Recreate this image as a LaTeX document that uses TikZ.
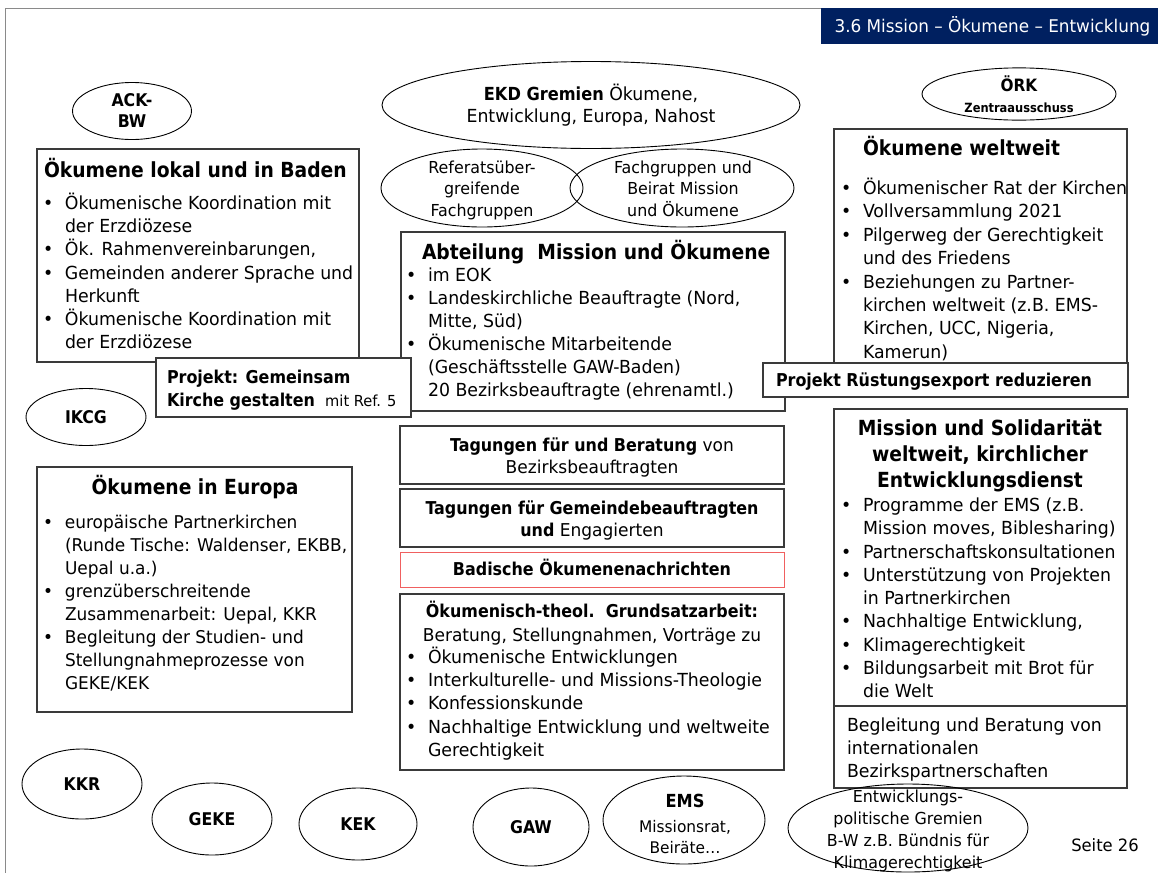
\documentclass[tikz,border=0pt]{standalone}
\usepackage{fontspec}
\setmainfont{DejaVu Sans Condensed}[UprightFeatures={FakeStretch=1.07}]
\usetikzlibrary{shapes.geometric}
\definecolor{navy}{HTML}{002060}
\definecolor{redb}{HTML}{F06060}
\definecolor{lin}{HTML}{3A3A3A}
\definecolor{frm}{HTML}{8A8A8A}
\newcommand\fs[2]{\fontsize{#1}{#2}\selectfont}
\newcommand\bul{\makebox[22pt][l]{\textbullet}}
\newcommand\indt{\hspace*{22pt}}
\newcommand\tp{\rule{0pt}{26pt}}
\begin{document}
\begin{tikzpicture}[x=1pt,y=-1pt,
 box/.style={draw=lin, line width=1.2pt, fill=white, anchor=north west, inner sep=0pt, outer sep=0pt, rectangle},
 ell/.style={draw=black, ellipse, line width=0.9pt, inner sep=0pt, align=center},
 txt/.style={anchor=north west, inner sep=0pt, outer sep=0pt, align=left, font=\fs{18}{23.2}},
 ctxt/.style={anchor=north, inner sep=0pt, outer sep=0pt, align=center},
 bt/.style={font=\bfseries\fs{17.5}{21}},
 bbt/.style={font=\bfseries\fs{17.7}{22}},
 ttl/.style={font=\bfseries\fs{20.8}{26}},
]
\useasboundingbox (0,0) rectangle (1158,873);
% frame and header
\node[box, draw=none, fill=navy, minimum width=337pt, minimum height=36pt, text=white, font=\fs{17.5}{20}] (hdr) at (821,8) {\hspace*{6pt}3.6 Mission – Ökumene – Entwicklung};
\coordinate (fTL) at (5,8);
\coordinate (fBL) at (5,873);
\draw[frm, line width=1pt] (hdr.north west) -- (fTL) -- (fBL);

% top ellipses
\node[ell, bt, minimum width=119pt, minimum height=57pt] (ack) at (132,111) {ACK-\\BW};
\node[ell, font=\fs{18}{22}, minimum width=418pt, minimum height=87pt] (ekd) at (591,105) {\textbf{EKD Gremien} Ökumene,\\Entwicklung, Europa, Nahost};
\node[ell, minimum width=202pt, minimum height=78pt] (refg) at (482,188) {};
\node[ctxt, font=\fs{16.5}{21.5}] (refgT) at (482,147) {\tp Referatsüber-\\greifende\\Fachgruppen};
\node[ell, minimum width=224pt, minimum height=78pt] (fach) at (682,188) {};
\node[ctxt, font=\fs{16.5}{21.5}] (fachT) at (683,147) {\tp Fachgruppen und\\Beirat Mission\\und Ökumene};
\node[ell, font=\bfseries\fs{12.7}{21}, minimum width=194pt, minimum height=47pt] (oerk) at (1019,94) {{\fs{17}{21}ÖRK}\\Zentraausschuss};

% Oekumene lokal
\node[box, minimum width=322pt, minimum height=213pt] (lokal) at (37,149) {};
\node[txt, ttl] (lokalT) at (44,151.5) {\tp Ökumene lokal und in Baden};
\node[txt] (lokalL) at (43,183.5) {\tp\bul Ökumenische Koordination mit\\
\indt der Erzdiözese\\
\bul Ök. Rahmenvereinbarungen,\\
\bul Gemeinden anderer Sprache und\\
\indt Herkunft\\
\bul Ökumenische Koordination mit\\
\indt der Erzdiözese};

% Abteilung
\node[box, minimum width=384pt, minimum height=179pt] (abt) at (401,232) {};
\node[txt, ttl] (abtT) at (422,233.3) {\tp Abteilung\ \ Mission und Ökumene};
\node[txt, font=\fs{18}{23}] (abtL) at (406,255.5) {\tp\bul im EOK\\
\bul Landeskirchliche Beauftragte (Nord,\\
\indt Mitte, Süd)\\
\bul Ökumenische Mitarbeitende\\
\indt (Geschäftsstelle GAW-Baden)\\
\indt 20 Bezirksbeauftragte (ehrenamtl.)};

% Projekt Gemeinsam
\node[box, minimum width=255pt, minimum height=59pt] (gem) at (156,358) {};
\node[txt, font=\bfseries\fs{17.7}{23}] (gemT) at (167,357.3) {\tp Projekt: Gemeinsam\\Kirche gestalten {\mdseries\fs{15.2}{23} mit Ref. 5}};

% Oekumene weltweit
\node[box, minimum width=293pt, minimum height=234pt] (welt) at (834,129) {};
\node[txt, ttl] (weltT) at (863,129.5) {\tp Ökumene weltweit};
\node[txt, font=\fs{18}{23.4}] (weltL) at (841,168.5) {\tp\bul Ökumenischer Rat der Kirchen\\
\bul Vollversammlung 2021\\
\bul Pilgerweg der Gerechtigkeit\\
\indt und des Friedens\\
\bul Beziehungen zu Partner-\\
\indt kirchen weltweit (z.B. EMS-\\
\indt Kirchen, UCC, Nigeria,\\
\indt Kamerun)};

% Projekt Ruestungsexport
\node[box, minimum width=365pt, minimum height=34pt] (rue) at (763,363) {};
\node[txt, bbt] (rueT) at (776,360) {\tp Projekt Rüstungsexport reduzieren};

% IKCG
\node[ell, bt, minimum width=120pt, minimum height=57pt] (ikcg) at (86,417) {IKCG};

% Oekumene in Europa
\node[box, minimum width=315pt, minimum height=245pt] (eur) at (37,467) {};
\node[ctxt, ttl] (eurT) at (195,468.5) {\tp Ökumene in Europa};
\node[txt, font=\fs{17.6}{23}] (eurL) at (43,502.5) {\tp\bul europäische Partnerkirchen\\
\indt (Runde Tische: Waldenser, EKBB,\\
\indt Uepal u.a.)\\
\bul grenzüberschreitende\\
\indt Zusammenarbeit: Uepal, KKR\\
\bul Begleitung der Studien- und\\
\indt Stellungnahmeprozesse von\\
\indt GEKE/KEK};

% Tagungen
\node[box, minimum width=384pt, minimum height=58pt] (tag1) at (400,426) {};
\node[ctxt, font=\fs{17.7}{22}] (tag1T) at (592,425.3) {\tp\textbf{Tagungen für und Beratung} von\\Bezirksbeauftragten};
\node[box, minimum width=384pt, minimum height=58pt] (tag2) at (400,489) {};
\node[ctxt, font=\fs{17.7}{22}] (tag2T) at (592,488.3) {\tp\textbf{Tagungen für Gemeindebeauftragten}\\\textbf{und} Engagierten};
\node[box, draw=redb, line width=1pt, minimum width=384pt, minimum height=35pt] (bad) at (400,552) {};
\node[ctxt, bbt] (badT) at (592,549.5) {\tp Badische Ökumenenachrichten};

% Grundsatzarbeit
\node[box, minimum width=384pt, minimum height=176pt] (gs) at (400,594) {};
\node[ctxt, font=\fs{17.7}{24}] (gsT) at (592,591.3) {\tp\textbf{Ökumenisch-theol.\ \ Grundsatzarbeit:}\\Beratung, Stellungnahmen, Vorträge zu};
\node[txt, font=\fs{18}{23.2}] (gsL) at (406,637.5) {\tp\bul Ökumenische Entwicklungen\\
\bul Interkulturelle- und Missions-Theologie\\
\bul Konfessionskunde\\
\bul Nachhaltige Entwicklung und weltweite\\
\indt Gerechtigkeit};

% Mission und Solidaritaet
\node[box, minimum width=293pt, minimum height=297pt] (mis) at (834,409) {};
\node[ctxt, ttl] (misT) at (980,409.3) {\tp Mission und Solidarität\\weltweit, kirchlicher\\Entwicklungsdienst};
\node[txt, font=\fs{18}{23.25}] (misL) at (841,485.5) {\tp\bul Programme der EMS (z.B.\\
\indt Mission moves, Biblesharing)\\
\bul Partnerschaftskonsultationen\\
\bul Unterstützung von Projekten\\
\indt in Partnerkirchen\\
\bul Nachhaltige Entwicklung,\\
\bul Klimagerechtigkeit\\
\bul Bildungsarbeit mit Brot für\\
\indt die Welt};
\node[box, minimum width=293pt, minimum height=82pt] (begl) at (834,706) {};
\node[txt, font=\fs{18}{23}] (beglT) at (847,705.5) {\tp Begleitung und Beratung von\\internationalen\\Bezirkspartnerschaften};

% bottom ellipses
\node[ell, bt, minimum width=120pt, minimum height=70pt] (kkr) at (82,784) {KKR};
\node[ell, bt, minimum width=120pt, minimum height=72pt] (geke) at (212,819) {GEKE};
\node[ell, bt, minimum width=118pt, minimum height=72pt] (kek) at (358,824) {KEK};
\node[ell, bt, minimum width=116pt, minimum height=78pt] (gaw) at (531,827) {GAW};
\node[ell, minimum width=162pt, minimum height=88pt] (ems) at (684,820) {};
\node[ctxt, font=\fs{16}{21}] (emsT) at (685,781.5) {\tp{\bfseries\fs{18}{21}EMS}\\[4pt]Missionsrat,\\Beiräte…};
\node[ell, minimum width=240pt, minimum height=88pt] (entw) at (908,828) {};
\node[ctxt, font=\fs{16.5}{22}] (entwT) at (908,776) {\tp Entwicklungs-\\politische Gremien\\B-W z.B. Bündnis für\\Klimagerechtigkeit};
\node[font=\fs{17}{20}, inner sep=0pt] (seite) at (1105,845) {Seite 26};
\end{tikzpicture}
\end{document}
